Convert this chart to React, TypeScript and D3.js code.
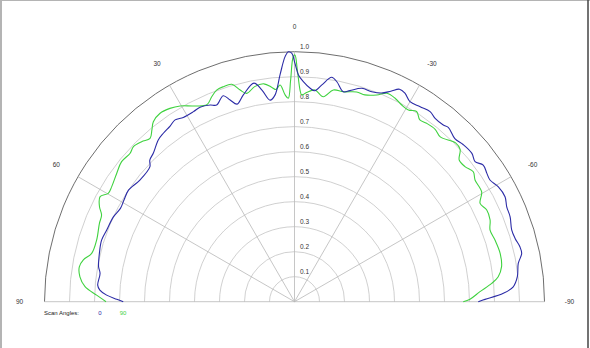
import React from "react";
import * as d3 from "d3";

// ---- data ----
const ringValues = [0.1, 0.2, 0.3, 0.4, 0.5, 0.6, 0.7, 0.8, 0.9, 1.0];
const ringLabels = ["0.1", "0.2", "0.3", "0.4", "0.5", "0.6", "0.7", "0.8", "0.9", "1.0"];
const spokeAngles = [90, 60, 30, 0, -30, -60, -90];
const spokeLabels = ["90", "60", "30", "0", "-30", "-60", "-90"];
const seriesNames = ["0", "90"];
const legendTitle = "Scan Angles:";

// scan angle 0 (blue)
const angles0 = [
  90, 89.2, 88, 86.6, 85.2, 81.7, 79.9, 76.1, 72.3, 69.1, 64.9, 61.8, 59.2, 56.1, 51.8, 47,
  45.6, 43.5, 40.1, 37.9, 35.3, 33.3, 31.1, 28, 25.9, 23.2, 21.6, 19.1, 17.7, 16.2, 13.9,
  10.5, 8.7, 6.9, 5.4, 3.6, 2.2, 1.4, 0.65, -0.1, -1, -2.3, -4.2, -5.5, -7.2, -9.4, -10.9,
  -13.1, -14.7, -17.5, -20.2, -22.6, -24.6, -26.3, -27.9, -30, -32.8, -35.5, -37.5, -40.1,
  -41.4, -44.5, -47, -50.1, -52.2, -54.1, -56.3, -58.1, -60.6, -63.5, -65.9, -68.5, -71.7,
  -74, -76.3, -78, -80.3, -83.6, -86.1, -87.7, -89.3, -90,
];
const values0 = [
  0.685, 0.711, 0.752, 0.78, 0.79, 0.786, 0.796, 0.804, 0.81, 0.804, 0.8, 0.79, 0.794, 0.8,
  0.787, 0.791, 0.81, 0.82, 0.846, 0.854, 0.861, 0.87, 0.861, 0.861, 0.865, 0.856, 0.846,
  0.872, 0.847, 0.823, 0.852, 0.889, 0.855, 0.812, 0.83, 0.912, 0.981, 1.0, 0.994, 0.954,
  0.907, 0.881, 0.856, 0.848, 0.874, 0.91, 0.896, 0.862, 0.873, 0.895, 0.895, 0.904, 0.926,
  0.948, 0.944, 0.924, 0.928, 0.934, 0.924, 0.924, 0.93, 0.915, 0.922, 0.925, 0.914, 0.932,
  0.925, 0.921, 0.936, 0.941, 0.93, 0.927, 0.915, 0.918, 0.928, 0.929, 0.908, 0.897, 0.877,
  0.836, 0.762, 0.735,
];

// scan angle 90 (green)
const angles90 = [
  90, 88.1, 85.9, 83.4, 80.8, 78.8, 76.6, 72.7, 68.1, 65.8, 64, 61.6, 59.8, 57.8, 54.2, 51,
  47.9, 46.1, 43.7, 41.5, 39.7, 38.1, 35.5, 32.8, 30.3, 27.3, 24, 22, 20.2, 18.3, 16.1, 14.4,
  12.9, 10.5, 8, 6, 5, 3.8, 2.6, 1.75, 1.0, 0.3, -0.1, -0.7, -1.5, -2, -3.3, -5.5, -8,
  -10.4, -13.1, -16.5, -18.8, -21.7, -23.9, -26.3, -28.6, -30.7, -32.7, -34.6, -36.5, -39.2,
  -41.5, -45.4, -47.4, -49.3, -51.6, -54, -56, -59.6, -62.1, -64.5, -67.3, -69.9, -72.9,
  -76.7, -80.4, -83, -84.7, -86.9, -89.2, -90,
];
const values90 = [
  0.754, 0.792, 0.84, 0.864, 0.872, 0.861, 0.834, 0.829, 0.841, 0.846, 0.868, 0.884, 0.862,
  0.864, 0.877, 0.89, 0.886, 0.894, 0.885, 0.872, 0.893, 0.915, 0.926, 0.92, 0.907, 0.881,
  0.862, 0.884, 0.902, 0.906, 0.905, 0.874, 0.855, 0.875, 0.88, 0.862, 0.852, 0.869, 0.828,
  0.814, 0.887, 0.98, 0.987, 0.927, 0.847, 0.827, 0.838, 0.851, 0.828, 0.861, 0.862, 0.875,
  0.874, 0.89, 0.912, 0.908, 0.896, 0.892, 0.904, 0.883, 0.888, 0.89, 0.88, 0.905, 0.9,
  0.869, 0.87, 0.884, 0.871, 0.868, 0.84, 0.852, 0.848, 0.833, 0.839, 0.845, 0.84, 0.821,
  0.792, 0.743, 0.702, 0.675,
];

const W = 590;
const H = 348;
const cx = 294.5;
const cy = 301.7;
const R = 250;
const FONT = "'Liberation Sans', Arial, sans-serif";

export default function App() {
  const r = d3.scaleLinear().domain([0, 1]).range([0, R]);
  const toRad = (deg: number) => (-deg * Math.PI) / 180;
  const pt = (deg: number, rad: number): [number, number] => [
    cx - rad * Math.sin((deg * Math.PI) / 180),
    cy - rad * Math.cos((deg * Math.PI) / 180),
  ];

  const semi = (rad: number) => {
    const p = d3.path();
    p.moveTo(cx - rad, cy);
    p.arc(cx, cy, rad, Math.PI, 2 * Math.PI);
    return p.toString();
  };

  const line = d3
    .lineRadial<[number, number]>()
    .angle((d) => toRad(d[0]))
    .radius((d) => r(d[1]))
    .curve(d3.curveCatmullRom.alpha(0.5));

  const s0 = angles0.map((a, i) => [a, values0[i]] as [number, number]);
  const s90 = angles90.map((a, i) => [a, values90[i]] as [number, number]);

  const blue = "#2b2ba6";
  const green = "#3fd23f";

  return (
    <svg
      width={W}
      height={H}
      style={{ position: "absolute", left: 0, top: 0, background: "#fff" }}
      fontFamily={FONT}
    >
      <rect x={0} y={0} width={W} height={H} fill="#fff" />
      {/* frame */}
      <line x1={0} y1={0.5} x2={W} y2={0.5} stroke="#b4b4b4" />
      <line x1={1} y1={0} x2={1} y2={H} stroke="#b4b4b4" strokeWidth={2} />
      <line x1={588} y1={0} x2={588} y2={H} stroke="#444" strokeWidth={1.5} />

      {/* rings */}
      {ringValues.map((v, i) => (
        <path
          key={"ring" + i}
          d={semi(r(v))}
          fill="none"
          stroke={v === 1 ? "#6e6e6e" : "#c4c4c4"}
          strokeWidth={v === 1 ? 1 : 0.8}
        />
      ))}
      {/* spokes */}
      {spokeAngles.map((a, i) => {
        const [x2, y2] = pt(a, r(1));
        return (
          <line key={"sp" + i} x1={cx} y1={cy} x2={x2} y2={y2} stroke="#b8b8b8" strokeWidth={0.8} />
        );
      })}
      {/* ring labels */}
      {ringValues.map((v, i) => (
        <text
          key={"rl" + i}
          x={cx + 5.5}
          y={cy - r(v) - 3}
          fontSize={6.5}
          fill="#333"
        >
          {ringLabels[i]}
        </text>
      ))}
      {/* angle labels */}
      {spokeAngles.map((a, i) => {
        const [x, y] = pt(a, r(1) + 25);
        return (
          <text
            key={"al" + i}
            x={x}
            y={y}
            fontSize={6.5}
            fill="#333"
            textAnchor="middle"
            dominantBaseline="central"
          >
            {spokeLabels[i]}
          </text>
        );
      })}

      {/* series */}
      <g transform={`translate(${cx},${cy})`}>
        <path d={line(s90) || ""} fill="none" stroke={green} strokeWidth={1.1} />
        <path d={line(s0) || ""} fill="none" stroke={blue} strokeWidth={1.1} />
      </g>

      {/* legend */}
      <text x={44} y={313} fontSize={6} fill="#222" dominantBaseline="central">
        {legendTitle}
      </text>
      <text x={100} y={313} fontSize={6} fill={blue} textAnchor="middle" dominantBaseline="central">
        {seriesNames[0]}
      </text>
      <text x={123} y={313} fontSize={6} fill={green} textAnchor="middle" dominantBaseline="central">
        {seriesNames[1]}
      </text>
    </svg>
  );
}
